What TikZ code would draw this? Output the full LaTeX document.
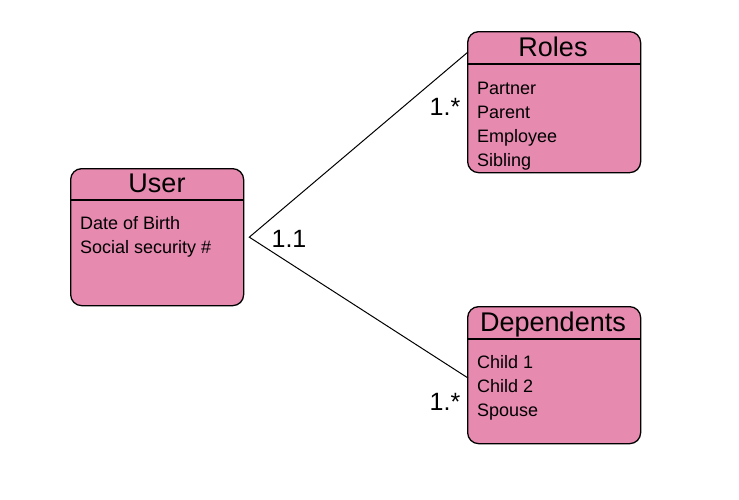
\documentclass[tikz,border=0pt]{standalone}
\usepackage{fontspec}
\setmainfont{Liberation Sans}
\usetikzlibrary{calc}
\definecolor{boxpink}{RGB}{230,138,176}
\tikzset{
  x=1pt,y=-1pt,
  entity/.style={draw=black,line width=1.3pt,fill=boxpink,rounded corners=11pt,
     anchor=north west,inner sep=0pt,minimum width=173pt},
  title/.style={font=\fontsize{27}{30}\selectfont,inner sep=0pt,anchor=base},
  attr/.style={font=\fontsize{18}{20}\selectfont,inner sep=0pt,anchor=base west},
  mult/.style={font=\fontsize{25}{28}\selectfont,inner sep=0pt,anchor=base},
  rel/.style={draw=black,line width=1pt}
}
\begin{document}
\begin{tikzpicture}
\useasboundingbox (0,0) rectangle (739,499);
% User
\node[entity,minimum height=137pt] (user) at (70,168) {};
\draw[line width=1.3pt] (70,200) -- (244,200);
\node[title] (usert) at (157,192) {User};
\node[attr] (u1) at (80,229.5) {Date of Birth};
\node[attr] (u2) at (80,253.5) {Social security \#};
% Roles
\node[entity,minimum height=141pt] (roles) at (467,31) {};
\draw[line width=1.3pt] (467,64) -- (640,64);
\node[title] (rolest) at (553,56) {Roles};
\node[attr] (r1) at (477,94.5) {Partner};
\node[attr] (r2) at (477,118.5) {Parent};
\node[attr] (r3) at (477,142.5) {Employee};
\node[attr] (r4) at (477,166.5) {Sibling};
% Dependents
\node[entity,minimum height=137pt] (deps) at (467,306) {};
\draw[line width=1.3pt] (467,339) -- (640,339);
\node[title] (depst) at (553,331) {Dependents};
\node[attr] (d1) at (477,368.5) {Child 1};
\node[attr] (d2) at (477,392.5) {Child 2};
\node[attr] (d3) at (477,416.5) {Spouse};
% connectors
\coordinate (apex) at ($(user.east)+(5,0)$);
\coordinate (rend) at ($(roles.north west)+(1,21)$);
\coordinate (dend) at ($(deps.north west)+(1,72)$);
\draw[rel] (rend) -- (apex) -- (dend);
% multiplicities
\node[mult] (m1) at (445,115) {1.*};
\node[mult] (m2) at (289,247) {1.1};
\node[mult] (m3) at (445,410) {1.*};
\end{tikzpicture}
\end{document}
